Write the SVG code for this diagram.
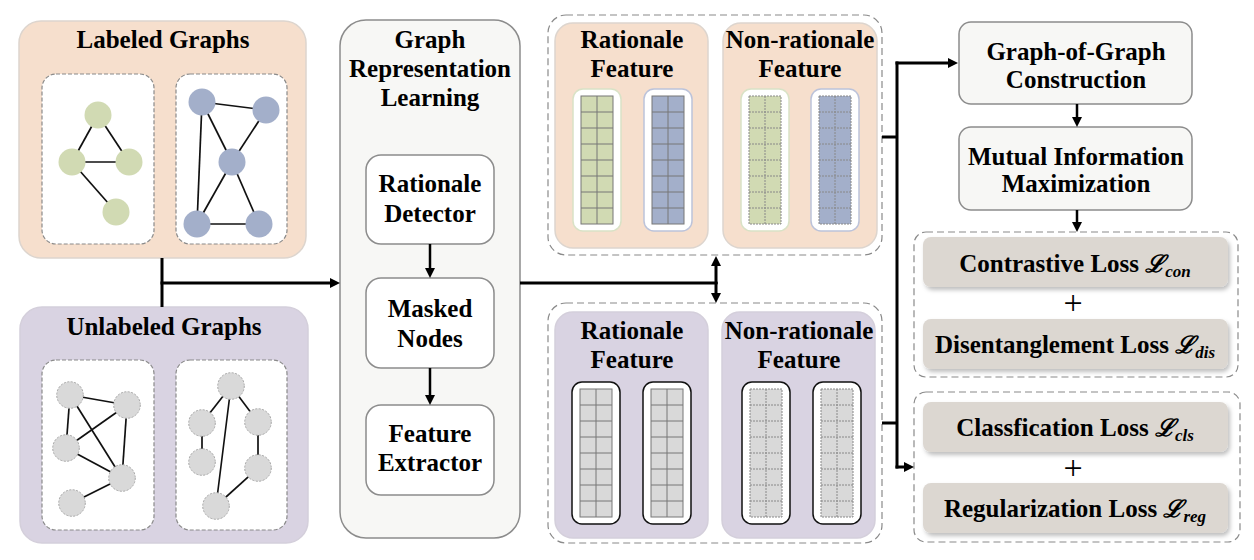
<svg xmlns="http://www.w3.org/2000/svg" width="1254" height="560" viewBox="0 0 1254 560">
<style>
text{font-family:"Liberation Serif","Times New Roman",serif;font-weight:bold;font-size:25px;fill:#000;text-anchor:middle}
.peach{fill:#f6dfcd;stroke:#ddd5ce;stroke-width:1.5}
.lav{fill:#d9d3e2;stroke:#d4cfdb;stroke-width:1.5}
.dbox{fill:#fff;stroke:#8a8a8a;stroke-width:1.2;stroke-dasharray:4 2}
.outer{fill:none;stroke:#8a8a8a;stroke-width:1.2;stroke-dasharray:7 4}
.edge{stroke:#111;stroke-width:1.7}
.gn{fill:#d1dab3}
.bn{fill:#a3afca}
.xn{fill:#d9d9d9;stroke:#a8a8a8;stroke-width:1;stroke-dasharray:2 1.5}
.grl{fill:#f7f7f5;stroke:#8c8c8c;stroke-width:1.5}
.inner{fill:#fff;stroke:#8c8c8c;stroke-width:1.5}
.loss{fill:#dcd7d1;filter:url(#sh)}
.conn{fill:none;stroke:#000;stroke-width:3}
.arr{fill:none;stroke:#000;stroke-width:2.5}
.m{font-family:"DejaVu Serif",serif;font-style:italic;font-weight:bold;font-size:24px}
.sub{font-size:17px;font-style:italic}
.hG{fill:#fff;stroke:#d9e2c6;stroke-width:1.5}
.hB{fill:#fff;stroke:#bcc3da;stroke-width:1.5}
.hK{fill:#fff;stroke:#111;stroke-width:1.5}
.gl{fill:none;stroke:#777;stroke-width:1}
.gd{fill:none;stroke:#888;stroke-width:1;stroke-dasharray:2 1}
</style>
<defs>
<filter id="sh" x="-5%" y="-20%" width="115%" height="150%">
<feDropShadow dx="2" dy="3" stdDeviation="2" flood-color="#000" flood-opacity="0.25"/>
</filter>
<marker id="ah" markerUnits="userSpaceOnUse" markerWidth="11" markerHeight="10" refX="3" refY="5" orient="auto">
<path d="M0,0 L10,5 L0,10 z" fill="#000"/>
</marker>
<g id="gridS"><rect width="32" height="128"/><path class="gl" d="M16 0V128M0 16H32M0 32H32M0 48H32M0 64H32M0 80H32M0 96H32M0 112H32"/><rect class="gl" width="32" height="128"/></g>
<g id="gridD"><rect width="32" height="128"/><path class="gd" d="M16 0V128M0 16H32M0 32H32M0 48H32M0 64H32M0 80H32M0 96H32M0 112H32"/><rect class="gd" width="32" height="128"/></g>
</defs>
<rect width="1254" height="560" fill="#fff"/>

<g id="labeled-graphs">
<rect class="peach" x="19" y="21" width="287" height="237" rx="22"/>
<text x="163" y="48">Labeled Graphs</text>
<rect class="dbox" x="42" y="74" width="112" height="170" rx="14"/>
<rect class="dbox" x="176" y="74" width="111" height="170" rx="14"/>
<g class="edge">
<line x1="98" y1="115" x2="72" y2="162"/><line x1="98" y1="115" x2="129" y2="162"/><line x1="72" y1="162" x2="129" y2="162"/><line x1="72" y1="162" x2="116" y2="212"/>
<line x1="202" y1="102" x2="266" y2="110"/><line x1="202" y1="102" x2="232" y2="162"/><line x1="202" y1="102" x2="197" y2="224"/><line x1="266" y1="110" x2="232" y2="162"/><line x1="232" y1="162" x2="197" y2="224"/><line x1="232" y1="162" x2="259" y2="224"/><line x1="197" y1="224" x2="259" y2="224"/>
</g>
<g class="gn"><circle cx="98" cy="115" r="13.5"/><circle cx="72" cy="162" r="13.5"/><circle cx="129" cy="162" r="13.5"/><circle cx="116" cy="212" r="13.5"/></g>
<g class="bn"><circle cx="202" cy="102" r="13.5"/><circle cx="266" cy="110" r="13.5"/><circle cx="232" cy="162" r="13.5"/><circle cx="197" cy="224" r="13.5"/><circle cx="259" cy="224" r="13.5"/></g>
</g>

<g id="unlabeled-graphs">
<rect class="lav" x="20" y="307" width="288" height="236" rx="22"/>
<text x="164" y="335">Unlabeled Graphs</text>
<rect class="dbox" x="42" y="360" width="112" height="170" rx="14"/>
<rect class="dbox" x="176" y="360" width="111" height="170" rx="14"/>
<g class="edge">
<line x1="70" y1="395" x2="127" y2="405"/><line x1="70" y1="395" x2="66" y2="448"/><line x1="70" y1="395" x2="122" y2="478"/><line x1="127" y1="405" x2="66" y2="448"/><line x1="127" y1="405" x2="122" y2="478"/><line x1="66" y1="448" x2="122" y2="478"/><line x1="122" y1="478" x2="72" y2="503"/>
<line x1="231" y1="386" x2="202" y2="423"/><line x1="231" y1="386" x2="258" y2="422"/><line x1="231" y1="386" x2="216" y2="506"/><line x1="202" y1="423" x2="202" y2="462"/><line x1="258" y1="422" x2="258" y2="468"/><line x1="258" y1="468" x2="216" y2="506"/>
</g>
<g class="xn">
<circle cx="70" cy="395" r="13.3"/><circle cx="127" cy="405" r="13.3"/><circle cx="66" cy="448" r="13.3"/><circle cx="122" cy="478" r="13.3"/><circle cx="72" cy="503" r="13.3"/>
<circle cx="231" cy="386" r="13.3"/><circle cx="202" cy="423" r="13.3"/><circle cx="258" cy="422" r="13.3"/><circle cx="202" cy="462" r="13.3"/><circle cx="258" cy="468" r="13.3"/><circle cx="216" cy="506" r="13.3"/>
</g>
</g>

<g id="graph-representation-learning">
<rect class="grl" x="340" y="20" width="180" height="518" rx="26"/>
<text x="430" y="48">Graph</text>
<text x="430" y="77">Representation</text>
<text x="430" y="106">Learning</text>
</g>
<g id="rationale-detector">
<rect class="inner" x="366" y="155" width="128" height="89" rx="15"/>
<text x="430" y="192">Rationale</text>
<text x="430" y="222">Detector</text>
</g>
<g id="masked-nodes">
<rect class="inner" x="366" y="278" width="128" height="90" rx="15"/>
<text x="430" y="317">Masked</text>
<text x="430" y="347">Nodes</text>
</g>
<g id="feature-extractor">
<rect class="inner" x="366" y="405" width="128" height="90" rx="15"/>
<text x="430" y="442">Feature</text>
<text x="430" y="471">Extractor</text>
</g>

<g id="labeled-features">
<rect class="outer" x="548" y="15" width="334" height="240" rx="18"/>
<rect class="peach" x="555" y="23" width="153" height="225" rx="18"/>
<rect class="peach" x="723" y="23" width="154" height="225" rx="18"/>
<text x="632" y="48">Rationale</text>
<text x="632" y="77">Feature</text>
<text x="800" y="48">Non-rationale</text>
<text x="800" y="77">Feature</text>
<rect class="hG" x="573" y="89" width="48" height="142" rx="10"/>
<rect class="hB" x="644" y="89" width="48" height="142" rx="10"/>
<rect class="hG" x="741" y="89" width="48" height="142" rx="10"/>
<rect class="hB" x="811" y="89" width="48" height="142" rx="10"/>
<use href="#gridS" x="581" y="96" fill="#d1dab3"/>
<use href="#gridS" x="652" y="96" fill="#a3afca"/>
<use href="#gridD" x="749" y="96" fill="#d1dab3"/>
<use href="#gridD" x="819" y="96" fill="#a3afca"/>
</g>

<g id="unlabeled-features">
<rect class="outer" x="548" y="303" width="334" height="240" rx="18"/>
<rect class="lav" x="555" y="312" width="153" height="226" rx="18"/>
<rect class="lav" x="722" y="312" width="153" height="226" rx="18"/>
<text x="632" y="339">Rationale</text>
<text x="632" y="368">Feature</text>
<text x="799" y="339">Non-rationale</text>
<text x="799" y="368">Feature</text>
<rect class="hK" x="572" y="382" width="48" height="142" rx="10"/>
<rect class="hK" x="643" y="382" width="48" height="142" rx="10"/>
<rect class="hK" x="742" y="382" width="48" height="142" rx="10"/>
<rect class="hK" x="813" y="382" width="48" height="142" rx="10"/>
<use href="#gridS" x="580" y="389" fill="#d9d9d9"/>
<use href="#gridS" x="651" y="389" fill="#d9d9d9"/>
<use href="#gridD" x="750" y="389" fill="#d9d9d9"/>
<use href="#gridD" x="821" y="389" fill="#d9d9d9"/>
</g>

<g id="graph-of-graph">
<rect class="grl" x="959" y="22" width="233" height="82" rx="12"/>
<text x="1076" y="60">Graph-of-Graph</text>
<text x="1076" y="88">Construction</text>
</g>
<g id="mutual-information">
<rect class="grl" x="959" y="127" width="233" height="83" rx="12"/>
<text x="1076" y="165">Mutual Information</text>
<text x="1076" y="192">Maximization</text>
</g>

<g id="unsupervised-losses">
<rect class="outer" x="914" y="232" width="324" height="145" rx="12"/>
<rect class="loss" x="923" y="237" width="305" height="50" rx="8"/>
<text x="1075" y="272">Contrastive Loss <tspan class="m">ℒ</tspan><tspan class="sub" dy="5">con</tspan></text>
<text x="1073" y="314" style="font-size:34px;font-weight:normal">+</text>
<rect class="loss" x="923" y="319" width="305" height="50" rx="8"/>
<text x="1075" y="353">Disentanglement Loss <tspan class="m">ℒ</tspan><tspan class="sub" dy="5">dis</tspan></text>
</g>
<g id="supervised-losses">
<rect class="outer" x="914" y="392" width="326" height="150" rx="12"/>
<rect class="loss" x="923" y="402" width="305" height="50" rx="8"/>
<text x="1075" y="436">Classfication Loss <tspan class="m">ℒ</tspan><tspan class="sub" dy="5">cls</tspan></text>
<text x="1073" y="479" style="font-size:34px;font-weight:normal">+</text>
<rect class="loss" x="923" y="483" width="305" height="50" rx="8"/>
<text x="1075" y="517">Regularization Loss <tspan class="m">ℒ</tspan><tspan class="sub" dy="5">reg</tspan></text>
</g>

<g id="connectors">
<path class="conn" d="M162 258V307"/>
<path class="conn" d="M160.5 283H333" marker-end="url(#ah)"/>
<path class="conn" d="M520 283H717.5"/>
<path class="conn" d="M716 284V263" marker-end="url(#ah)"/>
<path class="conn" d="M716 282V296" marker-end="url(#ah)"/>
<path class="conn" d="M882 137H897"/>
<path class="conn" d="M882 423H897"/>
<path class="conn" d="M897 61.5V468.5"/>
<path class="conn" d="M895.5 63H951" marker-end="url(#ah)"/>
<path class="conn" d="M895.5 467H907" marker-end="url(#ah)"/>
<path class="arr" d="M430 244V271" marker-end="url(#ah)"/>
<path class="arr" d="M430 368V398" marker-end="url(#ah)"/>
<path class="arr" d="M1077 104V120" marker-end="url(#ah)"/>
<path class="arr" d="M1077 210V225" marker-end="url(#ah)"/>
</g>
</svg>
